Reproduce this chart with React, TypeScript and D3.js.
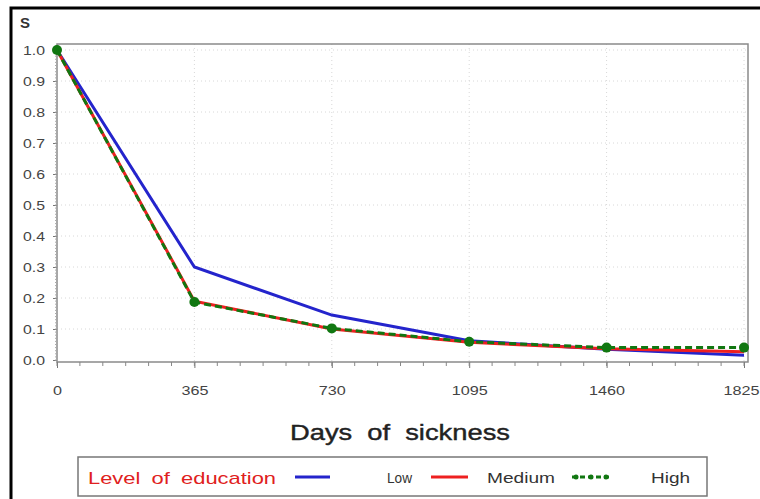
import React, { useEffect, useRef } from 'react'
import * as d3 from 'd3'

const days = [0, 365, 730, 1095, 1460, 1825]
const lowValues = [1.0, 0.3, 0.145, 0.062, 0.035, 0.015]
const mediumValues = [1.0, 0.19, 0.1, 0.057, 0.036, 0.027]
const highValues = [1.0, 0.187, 0.102, 0.059, 0.04, 0.04]
const yTicks = [0, 0.1, 0.2, 0.3, 0.4, 0.5, 0.6, 0.7, 0.8, 0.9, 1.0]

const series = [
  { name: 'Low', values: lowValues, color: '#2424cc', dash: '', markers: false },
  { name: 'Medium', values: mediumValues, color: '#ee2020', dash: '', markers: false },
  { name: 'High', values: highValues, color: '#117711', dash: '7,4', markers: true },
]

const W = 760
const H = 499
const font = 'Liberation Sans, Arial, sans-serif'

const App: React.FC = () => {
  const svgRef = useRef<SVGSVGElement>(null)

  useEffect(() => {
    if (!svgRef.current) return
    const svg = d3.select(svgRef.current)
    svg.selectAll('*').remove()

    const left = 57
    const right = 748
    const top = 44
    const bottom = 362

    const x = d3.scaleLinear().domain([0, 1825]).range([left, 744])
    const y = d3.scaleLinear().domain([0, 1]).range([360, 50])

    svg.append('rect').attr('width', W).attr('height', H).attr('fill', '#fff')

    // outer frame (only left and top visible)
    svg.append('path').attr('d', `M11,${H} L11,8 L${W},8`).attr('fill', 'none').attr('stroke', '#000').attr('stroke-width', 3)

    // grid
    const grid = svg.append('g')
    grid.selectAll('line.h')
      .data(yTicks.slice(1))
      .enter()
      .append('line')
      .attr('x1', left).attr('x2', right)
      .attr('y1', (d) => y(d)).attr('y2', (d) => y(d))
      .attr('stroke', '#d8d8d8').attr('stroke-dasharray', '1,3')
    grid.selectAll('line.v')
      .data(days.slice(1))
      .enter()
      .append('line')
      .attr('x1', (d) => x(d)).attr('x2', (d) => x(d))
      .attr('y1', top).attr('y2', bottom)
      .attr('stroke', '#d8d8d8').attr('stroke-dasharray', '1,3')

    // plot frame
    svg.append('rect')
      .attr('x', left).attr('y', top).attr('width', right - left).attr('height', bottom - top)
      .attr('fill', 'none').attr('stroke', '#8a8a8a').attr('stroke-width', 1.5)

    // x axis
    const xAxis = d3.axisBottom(x).tickValues(days).tickSize(6).tickFormat((d) => String(d))
    const xg = svg.append('g').attr('transform', `translate(0,${bottom})`).call(xAxis)
    xg.select('.domain').remove()
    xg.selectAll('line').attr('stroke', '#777')
    xg.selectAll('text')
      .attr('dy', 0).attr('y', 33).attr('fill', '#444')
      .attr('textLength', (d) => String(d).length * 9)
      .attr('lengthAdjust', 'spacingAndGlyphs')
      .style('font-size', '13px').style('font-family', font)
    xg.selectAll('text')
      .filter((d) => d === 1825)
      .attr('text-anchor', 'end')
      .attr('x', W - x(1825) - 1)
    const xMinor = d3.range(0, 1826, 1825 / 30)
    svg.append('g').selectAll('line')
      .data(xMinor)
      .enter()
      .append('line')
      .attr('x1', (d) => x(d)).attr('x2', (d) => x(d))
      .attr('y1', bottom).attr('y2', bottom + 4)
      .attr('stroke', '#888')

    // y axis
    const yAxis = d3.axisLeft(y).tickValues(yTicks).tickSize(4).tickFormat(d3.format('.1f'))
    const yg = svg.append('g').attr('transform', `translate(${left},0)`).call(yAxis)
    yg.select('.domain').remove()
    yg.selectAll('line').attr('stroke', '#777')
    yg.selectAll('text')
      .attr('x', -12).attr('fill', '#444')
      .attr('textLength', 22)
      .attr('lengthAdjust', 'spacingAndGlyphs')
      .style('font-size', '13px').style('font-family', font)
    const yMinor = d3.range(0, 1.001, 0.01)
    svg.append('g').selectAll('line')
      .data(yMinor)
      .enter()
      .append('line')
      .attr('x1', left - 2).attr('x2', left)
      .attr('y1', (d) => y(d)).attr('y2', (d) => y(d))
      .attr('stroke', '#aaa')

    svg.append('text')
      .attr('x', 25).attr('y', 28)
      .attr('text-anchor', 'middle')
      .attr('fill', '#333')
      .style('font-size', '15px').style('font-weight', 'bold').style('font-family', font)
      .text('S')

    // lines
    const line = d3.line<number>().x((d, i) => x(days[i])).y((d) => y(d))
    series.forEach((s) => {
      svg.append('path')
        .datum(s.values)
        .attr('d', line)
        .attr('fill', 'none')
        .attr('stroke', s.color)
        .attr('stroke-width', 3)
        .attr('stroke-dasharray', s.dash || null)
      if (s.markers) {
        svg.append('g').selectAll('circle')
          .data(s.values)
          .enter()
          .append('circle')
          .attr('cx', (d, i) => x(days[i]))
          .attr('cy', (d) => y(d))
          .attr('r', 5)
          .attr('fill', s.color)
      }
    })

    // x axis title
    svg.append('text')
      .attr('x', 290).attr('y', 440)
      .attr('fill', '#222')
      .attr('textLength', 220)
      .attr('lengthAdjust', 'spacingAndGlyphs')
      .style('font-size', '22px').style('font-family', font).style('word-spacing', '6px')
      .style('stroke', '#222').style('stroke-width', 0.4)
      .text('Days of sickness')

    // legend
    const lg = svg.append('g')
    lg.append('rect')
      .attr('x', 78).attr('y', 457).attr('width', 629).attr('height', 39)
      .attr('fill', '#fff').attr('stroke', '#777').attr('stroke-width', 1.5)
    lg.append('text')
      .attr('x', 88).attr('y', 484)
      .attr('fill', '#e02020')
      .attr('textLength', 188)
      .attr('lengthAdjust', 'spacingAndGlyphs')
      .style('font-size', '17px').style('font-family', font).style('word-spacing', '4px')
      .text('Level of education')
    const legendPos = [
      { sx: 295, ex: 330, tx: 387, tw: 25 },
      { sx: 431, ex: 468, tx: 487, tw: 68 },
      { sx: 572, ex: 610, tx: 651, tw: 39 },
    ]
    series.forEach((s, i) => {
      const p = legendPos[i]
      lg.append('line')
        .attr('x1', p.sx).attr('x2', p.ex).attr('y1', 477).attr('y2', 477)
        .attr('stroke', s.color).attr('stroke-width', 3)
        .attr('stroke-dasharray', s.dash ? '5,3' : null)
      if (s.markers) {
        lg.selectAll('circle.m' + i)
          .data([p.sx + 4, (p.sx + p.ex) / 2, p.ex - 4])
          .enter()
          .append('circle')
          .attr('cx', (d) => d).attr('cy', 477).attr('r', 2.5)
          .attr('fill', s.color)
      }
      lg.append('text')
        .attr('x', p.tx).attr('y', 483)
        .attr('fill', '#333')
        .attr('textLength', p.tw)
        .attr('lengthAdjust', 'spacingAndGlyphs')
        .style('font-size', '14px').style('font-family', font)
        .text(s.name)
    })
  }, [])

  return <svg ref={svgRef} width={W} height={H} style={{ position: 'absolute', left: 0, top: 0 }} />
}

export default App
